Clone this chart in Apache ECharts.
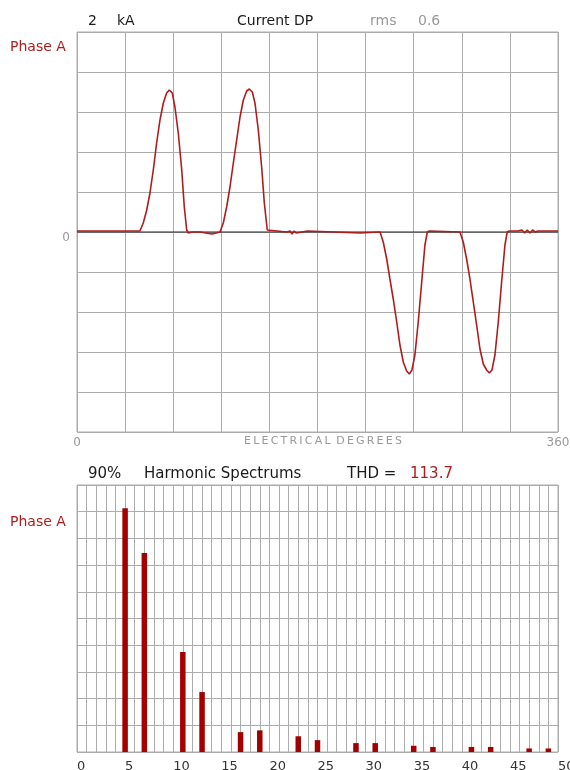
<!DOCTYPE html>
<html>
<head>
<meta charset="utf-8">
<script src="https://cdn.jsdelivr.net/npm/echarts@6/dist/echarts.min.js"></script>
<style>
  html, body { margin: 0; padding: 0; background: #fff; }
  #main { width: 570px; height: 770px; }
</style>
</head>
<body>
<div id="main"></div>
<script>
// 波形 (电角度, kA)
const waveDeg = [0, 47.1, 49.6, 52.2, 54.6, 57.1, 59.6, 62.1, 64.6, 67.1, 69.1, 71.3, 73.3, 75.8, 78.4, 80.3, 82.1, 83.3, 86, 92, 93, 101, 102,
  107.0, 109.5, 112.0, 114.5, 117.0, 119.5, 122.0, 124.5, 127.0, 129.0, 131.2, 133.2, 135.7, 138.2, 140.2, 142.4, 143.7,
  157, 158, 159.5, 161, 162.5, 164, 165, 172.5, 173.5, 212, 212.5, 213,
  226.8, 229.2, 231.8, 234.2, 236.7, 239.3, 241.7, 244.2, 246.7, 248.7, 250.7, 252.9, 255.4, 258.0, 260.4, 262.2, 263.7,
  286.6, 289.1, 291.6, 294.1, 296.6, 299.1, 301.6, 304.1, 306.6, 308.6, 310.6, 312.8, 315.3, 317.8, 320.3, 322.0, 323.5,
  330, 331, 333, 335, 337, 339, 341, 343, 345, 360];
const waveKA = [0.01, 0.01, 0.09, 0.22, 0.39, 0.62, 0.89, 1.12, 1.29, 1.39, 1.42, 1.39, 1.25, 0.99, 0.62, 0.25, 0.02, -0.01, 0.0, 0.0, -0.02, -0.02, 0.0,
  0.0, 0.09, 0.25, 0.45, 0.69, 0.92, 1.15, 1.32, 1.41, 1.43, 1.40, 1.29, 1.02, 0.65, 0.29, 0.02, 0.0,
  0.0, -0.02, 0.01, -0.02, 0.01, -0.01, 0.0, 0.01, -0.01, -0.01, 0.01, -0.01,
  0.0, -0.10, -0.27, -0.47, -0.67, -0.90, -1.13, -1.30, -1.39, -1.42, -1.38, -1.23, -0.90, -0.50, -0.13, 0.0, 0.01,
  0.0, -0.10, -0.27, -0.47, -0.70, -0.93, -1.17, -1.32, -1.38, -1.41, -1.38, -1.23, -0.90, -0.50, -0.13, 0.0, 0.01,
  0.01, -0.01, 0.02, -0.01, 0.02, -0.01, 0.02, 0.0, 0.01, 0.01];

// 谐波 (次数, %)
const harmOrder = [5, 7, 11, 13, 17, 19, 23, 25, 29, 31, 35, 37, 41, 43, 47, 49];
const harmPct = [82.2, 67.1, 33.7, 20.2, 6.7, 7.3, 5.3, 4.0, 3.0, 3.0, 2.1, 1.7, 1.7, 1.7, 1.2, 1.2];

const zeroLine = [[0, 0], [360, 0]];

const FONT = "DejaVu Sans";
const GRID_COLOR = "#acacac";
const RED = "#b01c1c";

const mychart = echarts.init(document.getElementById("main"), null, { renderer: "canvas" });

function txt(x, y, text, color, size, align) {
  return {
    type: "text",
    x: x,
    y: y,
    style: {
      text: text,
      fill: color,
      font: size + "px '" + FONT + "'",
      textAlign: align || "left",
      textVerticalAlign: "middle",
    },
  };
}

const option = {
  animation: false,
  backgroundColor: "#fff",
  grid: [
    {
      left: 77, top: 32, width: 481, height: 400,
      containLabel: false, outerBoundsMode: "none",
      show: true, borderColor: GRID_COLOR, borderWidth: 1,
    },
    {
      left: 77, top: 485, width: 481, height: 267,
      containLabel: false, outerBoundsMode: "none",
      show: true, borderColor: GRID_COLOR, borderWidth: 1,
    },
  ],
  xAxis: [
    {
      type: "value",
      gridIndex: 0,
      min: 0,
      max: 360,
      interval: 36,
      axisLine: { show: false },
      axisTick: { show: false },
      splitLine: { show: true, lineStyle: { color: GRID_COLOR, width: 1 } },
      axisLabel: {
        margin: 5,
        color: "#999",
        fontFamily: FONT,
        fontSize: 12,
        formatter: (v) => (v === 0 || v === 360 ? String(v) : ""),
      },
    },
    {
      type: "value",
      gridIndex: 1,
      min: 0,
      max: 50,
      interval: 1,
      axisLine: { show: false },
      axisTick: { show: false },
      splitLine: { show: true, lineStyle: { color: GRID_COLOR, width: 1 } },
      axisLabel: {
        margin: 8,
        color: "#333",
        fontFamily: FONT,
        fontSize: 13,
        align: "left",
        formatter: (v) => (v % 5 === 0 ? String(v) : ""),
      },
    },
  ],
  yAxis: [
    {
      type: "value",
      gridIndex: 0,
      min: -2,
      max: 2,
      interval: 0.4,
      axisLine: { show: false },
      axisTick: { show: false },
      splitLine: { show: true, lineStyle: { color: GRID_COLOR, width: 1 } },
      axisLabel: {
        margin: 7,
        color: "#999",
        fontFamily: FONT,
        fontSize: 12,
        verticalAlign: "top",
        formatter: (v) => (Math.abs(v) < 1e-6 ? "0" : ""),
      },
    },
    {
      type: "value",
      gridIndex: 1,
      min: 0,
      max: 90,
      interval: 9,
      axisLine: { show: false },
      axisTick: { show: false },
      axisLabel: { show: false },
      splitLine: { show: true, lineStyle: { color: GRID_COLOR, width: 1 } },
    },
  ],
  series: [
    {
      name: "zero",
      type: "line",
      xAxisIndex: 0,
      yAxisIndex: 0,
      data: zeroLine,
      symbol: "none",
      silent: true,
      z: 2,
      lineStyle: { color: "#222", width: 1 },
    },
    {
      name: "Phase A",
      type: "line",
      xAxisIndex: 0,
      yAxisIndex: 0,
      data: waveDeg.map((d, i) => [d, waveKA[i]]),
      symbol: "none",
      z: 3,
      lineStyle: { color: RED, width: 1.6 },
    },
    {
      name: "harmonics",
      type: "bar",
      xAxisIndex: 1,
      yAxisIndex: 1,
      data: harmOrder.map((h, i) => [h, harmPct[i]]),
      barWidth: 5.5,
      itemStyle: { color: "#a30000" },
    },
  ],
  graphic: [
    txt(88, 21, "2", "#1a1a1a", 14),
    txt(117, 21, "kA", "#1a1a1a", 14),
    txt(237, 21, "Current DP", "#1a1a1a", 14),
    txt(370, 21, "rms", "#999", 14),
    txt(418, 21, "0.6", "#999", 14),
    txt(10, 47, "Phase A", RED, 14),
    txt(323, 441, "E\u2009L\u2009E\u2009C\u2009T\u2009R\u2009I\u2009C\u2009A\u2009L\u2009 D\u2009E\u2009G\u2009R\u2009E\u2009E\u2009S", "#999", 11, "center"),
    txt(88, 474, "90%", "#1a1a1a", 15),
    txt(144, 474, "Harmonic Spectrums", "#1a1a1a", 15),
    txt(347, 474, "THD =", "#1a1a1a", 15),
    txt(410, 474, "113.7", RED, 15),
    txt(10, 522, "Phase A", RED, 14),
  ],
};
mychart.setOption(option);
</script>
</body>
</html>
